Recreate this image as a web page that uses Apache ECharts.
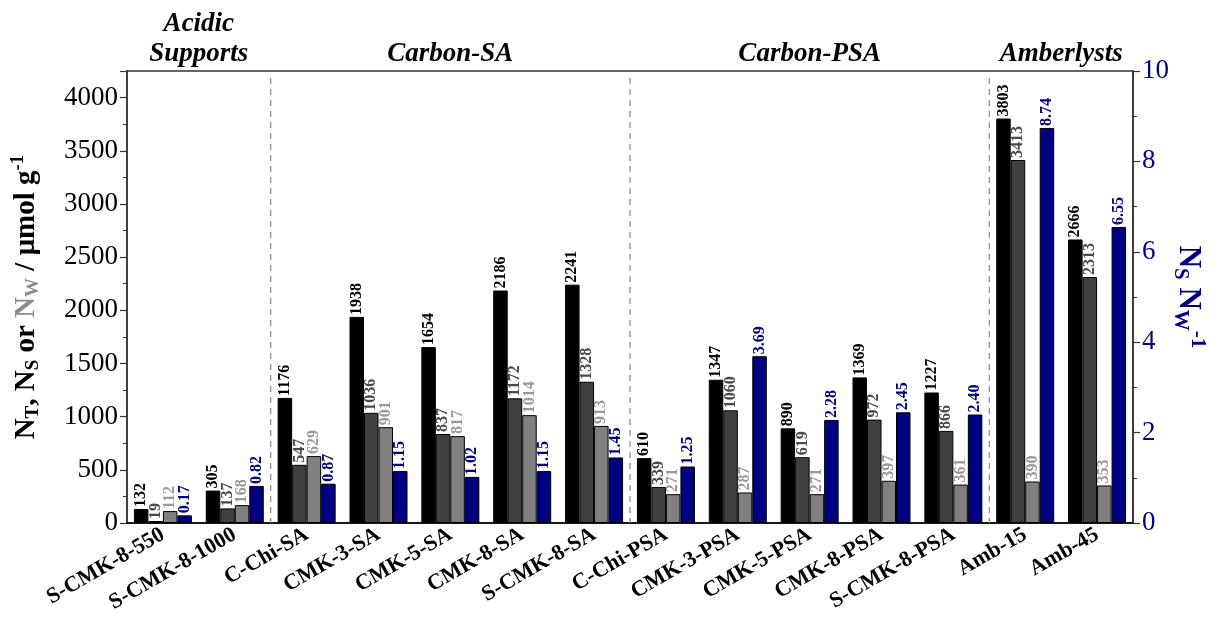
<!DOCTYPE html>
<html>
<head>
<meta charset="utf-8">
<script src="https://cdn.jsdelivr.net/npm/echarts@6/dist/echarts.min.js"></script>
<style>
  html, body { margin: 0; padding: 0; background: #fff; }
  #chart { width: 1214px; height: 621px; }
</style>
</head>
<body>
<div id="chart"></div>
<script>
// Catalyst samples
const categories = [
  'S-CMK-8-550', 'S-CMK-8-1000', 'C-Chi-SA', 'CMK-3-SA', 'CMK-5-SA', 'CMK-8-SA', 'S-CMK-8-SA',
  'C-Chi-PSA', 'CMK-3-PSA', 'CMK-5-PSA', 'CMK-8-PSA', 'S-CMK-8-PSA', 'Amb-15', 'Amb-45'
];
// Total acid sites N_T (µmol/g)
const totalSites = [132, 305, 1176, 1938, 1654, 2186, 2241, 610, 1347, 890, 1369, 1227, 3803, 2666];
// Strong acid sites N_S (µmol/g)
const strongSites = [19, 137, 547, 1036, 837, 1172, 1328, 339, 1060, 619, 972, 866, 3413, 2313];
// Weak acid sites N_W (µmol/g)
const weakSites = [112, 168, 629, 901, 817, 1014, 913, 271, 287, 271, 397, 361, 390, 353];
// Ratio N_S / N_W
const strongWeakRatio = [0.17, 0.82, 0.87, 1.15, 1.02, 1.15, 1.45, 1.25, 3.69, 2.28, 2.45, 2.40, 8.74, 6.55];

// Sample families shown above the plot
const groupNames = ['Acidic\nSupports', 'Carbon-SA', 'Carbon-PSA', 'Amberlysts'];
const groupFirst = [0, 2, 7, 12];
const groupLast = [1, 6, 11, 13];

const SERIF = '"Liberation Serif", "DejaVu Serif", serif';
const NAVY = '#000080';

function barLabel(color, fmt) {
  return {
    show: true,
    position: 'top',
    rotate: 90,
    align: 'left',
    verticalAlign: 'middle',
    distance: 2,
    fontFamily: SERIF,
    fontWeight: 'bold',
    fontSize: 16,
    color: color,
    formatter: fmt || (p => String(p.value))
  };
}

const chart = echarts.init(document.getElementById('chart'), null, { renderer: 'canvas' });

const option = {
  animation: false,
  backgroundColor: '#fff',
  grid: {
    left: 127, right: 81, top: 71, bottom: 98,
    containLabel: false,
    outerBoundsMode: 'none',
    show: true, borderColor: '#333', borderWidth: 1.5, backgroundColor: 'transparent'
  },
  xAxis: {
    type: 'category',
    data: categories,
    axisLine: { lineStyle: { color: '#000', width: 1.5 } },
    axisTick: { alignWithLabel: true, length: 6, lineStyle: { color: '#000', width: 1.2 } },
    axisLabel: {
      interval: 0, rotate: 30, margin: 10,
      fontFamily: SERIF, fontWeight: 'bold', fontSize: 22, color: '#000'
    }
  },
  yAxis: [
    {
      type: 'value', position: 'left',
      min: 0, max: 4250, interval: 500,
      axisLine: { show: true, lineStyle: { color: '#333', width: 1.5 } },
      axisTick: { show: true, inside: false, length: 7, lineStyle: { color: '#333', width: 1.2 } },
      minorTick: { show: true, splitNumber: 2, length: 4, lineStyle: { color: '#333', width: 1 } },
      splitLine: { show: false },
      axisLabel: {
        fontFamily: SERIF, fontSize: 27, color: '#000', margin: 9,
        showMaxLabel: false,
        formatter: v => (v % 500 === 0 ? String(v) : '')
      },
      name: '{b|N}{sub|T}{b|, N}{sub|S}{b| or }{g|N}{gsub|W}{b| / μmol g}{sup|-1}',
      nameLocation: 'middle',
      nameRotate: 90,
      nameGap: 83,
      nameMoveOverlap: false,
      nameTextStyle: {
        fontFamily: SERIF,
        rich: {
          b: { fontFamily: SERIF, fontWeight: 'bold', fontSize: 29, color: '#000' },
          g: { fontFamily: SERIF, fontWeight: 'bold', fontSize: 29, color: '#8c8c8c' },
          sub: { fontFamily: SERIF, fontWeight: 'bold', fontSize: 19, color: '#000', padding: [14, 0, 0, 0] },
          gsub: { fontFamily: SERIF, fontWeight: 'bold', fontSize: 19, color: '#8c8c8c', padding: [14, 0, 0, 0] },
          sup: { fontFamily: SERIF, fontWeight: 'bold', fontSize: 19, color: '#000', padding: [0, 0, 16, 0] }
        }
      }
    },
    {
      type: 'value', position: 'right',
      min: 0, max: 10, interval: 2,
      axisLine: { show: true, lineStyle: { color: '#333', width: 1.5 } },
      axisTick: { show: true, inside: false, length: 7, lineStyle: { color: '#333', width: 1.2 } },
      minorTick: { show: true, splitNumber: 2, length: 4, lineStyle: { color: '#333', width: 1 } },
      splitLine: { show: false },
      axisLabel: { fontFamily: SERIF, fontSize: 27, color: NAVY, margin: 9 },
      name: '{b|N}{sub|S}{b| N}{sub|W}{sup|-1}',
      nameLocation: 'middle',
      nameRotate: -90,
      nameGap: 36,
      nameMoveOverlap: false,
      nameTextStyle: {
        fontFamily: SERIF,
        rich: {
          b: { fontFamily: SERIF, fontWeight: 'bold', fontSize: 31, color: NAVY },
          sub: { fontFamily: SERIF, fontWeight: 'bold', fontSize: 21, color: NAVY, padding: [16, 0, 0, 0] },
          sup: { fontFamily: SERIF, fontWeight: 'bold', fontSize: 21, color: NAVY, padding: [0, 0, 18, 0] }
        }
      }
    }
  ],
  series: [
    {
      name: 'N_T', type: 'bar', yAxisIndex: 0, data: totalSites,
      barWidth: 14.5, barGap: '0%',
      itemStyle: { color: '#000', borderColor: '#000', borderWidth: 1 },
      label: barLabel('#000')
    },
    {
      name: 'N_S', type: 'bar', yAxisIndex: 0, data: strongSites,
      barWidth: 14.5, barGap: '0%',
      itemStyle: { color: '#404040', borderColor: '#000', borderWidth: 1 },
      label: barLabel('#4a4a4a')
    },
    {
      name: 'N_W', type: 'bar', yAxisIndex: 0, data: weakSites,
      barWidth: 14.5, barGap: '0%',
      itemStyle: { color: '#808080', borderColor: '#000', borderWidth: 1 },
      label: barLabel('#999999')
    },
    {
      name: 'N_S/N_W', type: 'bar', yAxisIndex: 1, data: strongWeakRatio,
      barWidth: 14.5, barGap: '0%',
      itemStyle: { color: NAVY, borderColor: '#000', borderWidth: 1 },
      label: barLabel(NAVY, p => p.value.toFixed(2))
    }
  ]
};

chart.setOption(option);

// Family separators and headings, placed through the axes
function drawGroups() {
  const xAt = i => chart.convertToPixel({ xAxisIndex: 0 }, i);
  const yTop = chart.convertToPixel({ yAxisIndex: 0 }, 4250);
  const yBottom = chart.convertToPixel({ yAxisIndex: 0 }, 0);
  const graphics = [];
  for (let g = 1; g < groupFirst.length; g++) {
    const x = (xAt(groupFirst[g] - 1) + xAt(groupFirst[g])) / 2;
    graphics.push({
      type: 'line', silent: true, z: 1,
      shape: { x1: x, y1: yTop + 7, x2: x, y2: yBottom },
      style: { stroke: '#888', lineWidth: 1.2, lineDash: [6, 5] }
    });
  }
  groupNames.forEach((name, g) => {
    const cx = (xAt(groupFirst[g]) + xAt(groupLast[g])) / 2;
    graphics.push({
      type: 'text', silent: true,
      x: cx, y: yTop - 2,
      style: {
        text: name,
        fontFamily: SERIF, fontWeight: 'bold', fontStyle: 'italic', fontSize: 27,
        lineHeight: 30,
        fill: '#000',
        align: 'center', verticalAlign: 'bottom'
      }
    });
  });
  chart.setOption({ graphic: graphics });
}
drawGroups();
</script>
</body>
</html>
